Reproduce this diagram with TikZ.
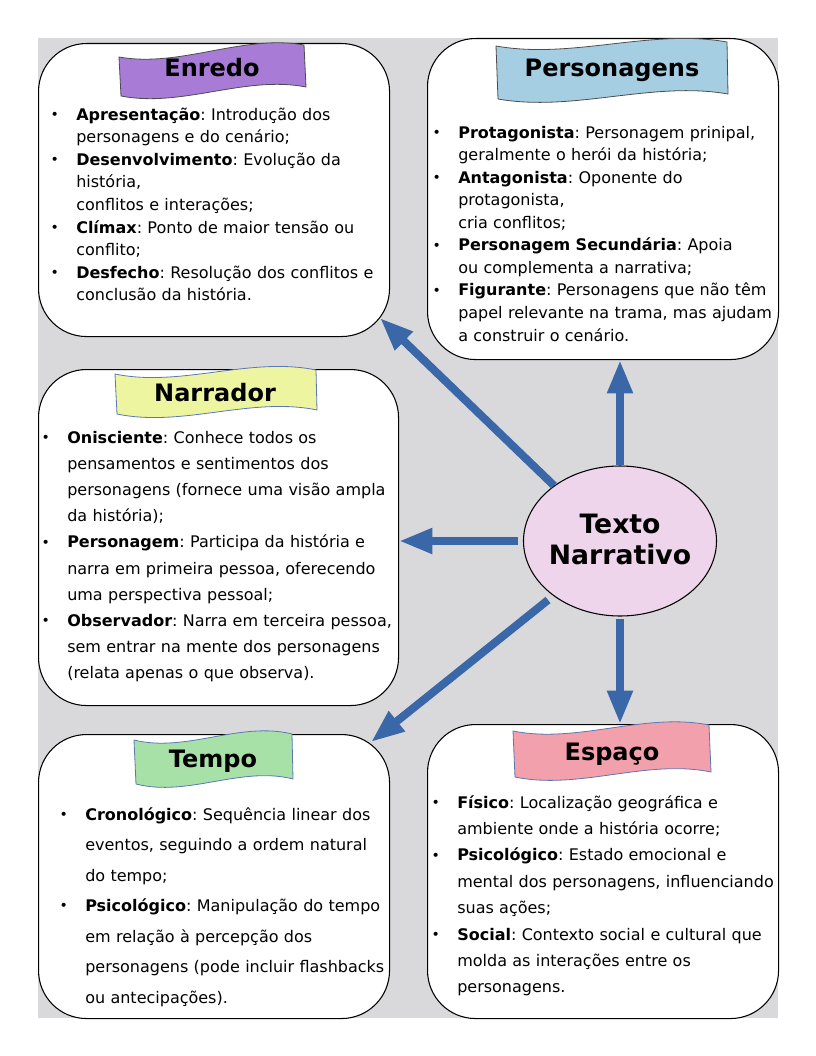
\documentclass[tikz,border=0pt]{standalone}
\usepackage{fontspec}
\setmainfont{DejaVu Sans}
\usetikzlibrary{shapes.geometric,arrows.meta,calc}
\frenchspacing
\definecolor{bggray}{RGB}{217,217,220}
\definecolor{arrowblue}{RGB}{58,103,168}
\definecolor{ellcol}{RGB}{239,213,236}
\definecolor{cEnredo}{RGB}{168,124,214}
\definecolor{cPers}{RGB}{166,206,227}
\definecolor{cNarr}{RGB}{238,245,160}
\definecolor{cTempo}{RGB}{168,225,168}
\definecolor{cEsp}{RGB}{242,160,172}
\definecolor{banblue}{RGB}{90,120,180}
\newcommand{\bul}{\makebox[15.75pt][l]{\hspace{-3.5pt}\raisebox{0.5pt}{\fontsize{10.5}{10.5}\selectfont •}}}
\newcommand{\ind}{\hspace*{15.75pt}}
\newcommand{\wavebanner}[6]{%
  \draw[#1] #2 .. controls ($#2!0.33!#3+(0,#6)$) and ($#2!0.67!#3-(0,#6)$) .. #3
     -- #4 .. controls ($#5!0.67!#4-(0,#6)$) and ($#5!0.33!#4+(0,#6)$) .. #5 -- cycle;}
\begin{document}
\begin{tikzpicture}[x=0.75pt,y=-0.75pt,
  box/.style={draw=black, line width=0.8pt, fill=white, rounded corners=36pt,
    rectangle, anchor=north west, inner sep=0pt},
  ttl/.style={font=\fontsize{18}{22}\selectfont\bfseries, inner sep=0pt},
  txt/.style={anchor=base west, inner sep=0pt, text width=300pt, align=left},
  arr/.style={draw=arrowblue, line width=6pt, -{Triangle[length=25pt,width=18pt]}},
  ban/.style={line width=0.6pt}]
\useasboundingbox (0,0) rectangle (816,1056);
\fill[bggray] (38,38) rectangle (778,1018);

% boxes
\node[box, minimum width={351*0.75pt}, minimum height={293*0.75pt}] (enredo) at (38,43) {};
\node[box, minimum width={351*0.75pt}, minimum height={321*0.75pt}] (personagens) at (427,38) {};
\node[box, minimum width={360*0.75pt}, minimum height={336*0.75pt}] (narrador) at (38,369) {};
\node[box, minimum width={351*0.75pt}, minimum height={284*0.75pt}] (tempo) at (38,734) {};
\node[box, minimum width={351*0.75pt}, minimum height={294*0.75pt}] (espaco) at (427,724) {};

% banners
\wavebanner{ban, fill=cEnredo, draw=black!70}{(119,57)}{(304,45)}{(306,87)}{(121,96)}{15}
\wavebanner{ban, fill=cPers, draw=black!70}{(496,46)}{(727,42)}{(728,94)}{(498,99)}{15}
\wavebanner{ban, fill=cNarr, draw=banblue}{(115,374)}{(316,370)}{(317,410)}{(117,414)}{15}
\wavebanner{ban, fill=cTempo, draw=banblue}{(134,740)}{(292,734)}{(293,779)}{(136,784)}{15}
\wavebanner{ban, fill=cEsp, draw=banblue}{(513,731)}{(709,725)}{(711,772)}{(515,777)}{15}

\node[ttl] (enredoT) at (212,68) {Enredo};
\node[ttl] (persT) at (612,70) {Personagens};
\node[ttl] (narrT) at (215,393) {Narrador};
\node[ttl] (tempoT) at (213,761) {Tempo};
\node[ttl] (espT) at (612,754) {Espaço};

% texts
\node[txt, font=\fontsize{12}{16.95}\selectfont] (enredoTxt) at (55,120) {%
\bul\textbf{Apresentação}: Introdução dos\\
\ind personagens e do cenário;\\
\bul\textbf{Desenvolvimento}: Evolução da\\
\ind história,\\
\ind conflitos e interações;\\
\bul\textbf{Clímax}: Ponto de maior tensão ou\\
\ind conflito;\\
\bul\textbf{Desfecho}: Resolução dos conflitos e\\
\ind conclusão da história.};

\node[txt, font=\fontsize{12}{16.92}\selectfont] (persTxt) at (437,138) {%
\bul\textbf{Protagonista}: Personagem prinipal,\\
\ind geralmente o herói da história;\\
\bul\textbf{Antagonista}: Oponente do\\
\ind protagonista,\\
\ind cria conflitos;\\
\bul\textbf{Personagem Secundária}: Apoia\\
\ind ou complementa a narrativa;\\
\bul\textbf{Figurante}: Personagens que não têm\\
\ind papel relevante na trama, mas ajudam\\
\ind a construir o cenário.};

\node[txt, font=\fontsize{12}{19.65}\selectfont] (narrTxt) at (46,443) {%
\bul\textbf{Onisciente}: Conhece todos os\\
\ind pensamentos e sentimentos dos\\
\ind personagens (fornece uma visão ampla\\
\ind da história);\\
\bul\textbf{Personagem}: Participa da história e\\
\ind narra em primeira pessoa, oferecendo\\
\ind uma perspectiva pessoal;\\
\bul\textbf{Observador}: Narra em terceira pessoa,\\
\ind sem entrar na mente dos personagens\\
\ind (relata apenas o que observa).};

\node[txt, font=\fontsize{12}{22.9}\selectfont] (tempoTxt) at (64,820) {%
\bul\textbf{Cronológico}: Sequência linear dos\\
\ind eventos, seguindo a ordem natural\\
\ind do tempo;\\
\bul\textbf{Psicológico}: Manipulação do tempo\\
\ind em relação à percepção dos\\
\ind personagens (pode incluir flashbacks\\
\ind ou antecipações).};

\node[txt, font=\fontsize{12}{19.82}\selectfont] (espTxt) at (436,808) {%
\bul\textbf{Físico}: Localização geográfica e\\
\ind ambiente onde a história ocorre;\\
\bul\textbf{Psicológico}: Estado emocional e\\
\ind mental dos personagens, influenciando\\
\ind suas ações;\\
\bul\textbf{Social}: Contexto social e cultural que\\
\ind molda as interações entre os\\
\ind personagens.};

% centre
\node[ellipse, draw=black, line width=0.8pt, fill=ellcol, minimum width={193*0.75pt},
  minimum height={150*0.75pt}, inner sep=0pt] (tn) at (620,541) {};
\node[font=\fontsize{20}{23.25}\selectfont\bfseries, align=center, text width=130pt,
  inner sep=0pt] (tnTxt) at (620,539) {Texto\\Narrativo};

% arrows
\coordinate (enTip) at (380,318);
\coordinate (tpStart) at (548,600);
\coordinate (tpTip) at (371,742);
\draw[arr] (tn.140) -- (enTip);
\draw[arr] (tn.north) -- (tn.north |- personagens.south);
\draw[arr, shorten <=4pt] (tn.west) -- (narrador.east |- tn.west);
\draw[arr] (tpStart) -- (tpTip);
\draw[arr, shorten <=2pt] (tn.south) -- (tn.south |- espaco.north);
\end{tikzpicture}
\end{document}
